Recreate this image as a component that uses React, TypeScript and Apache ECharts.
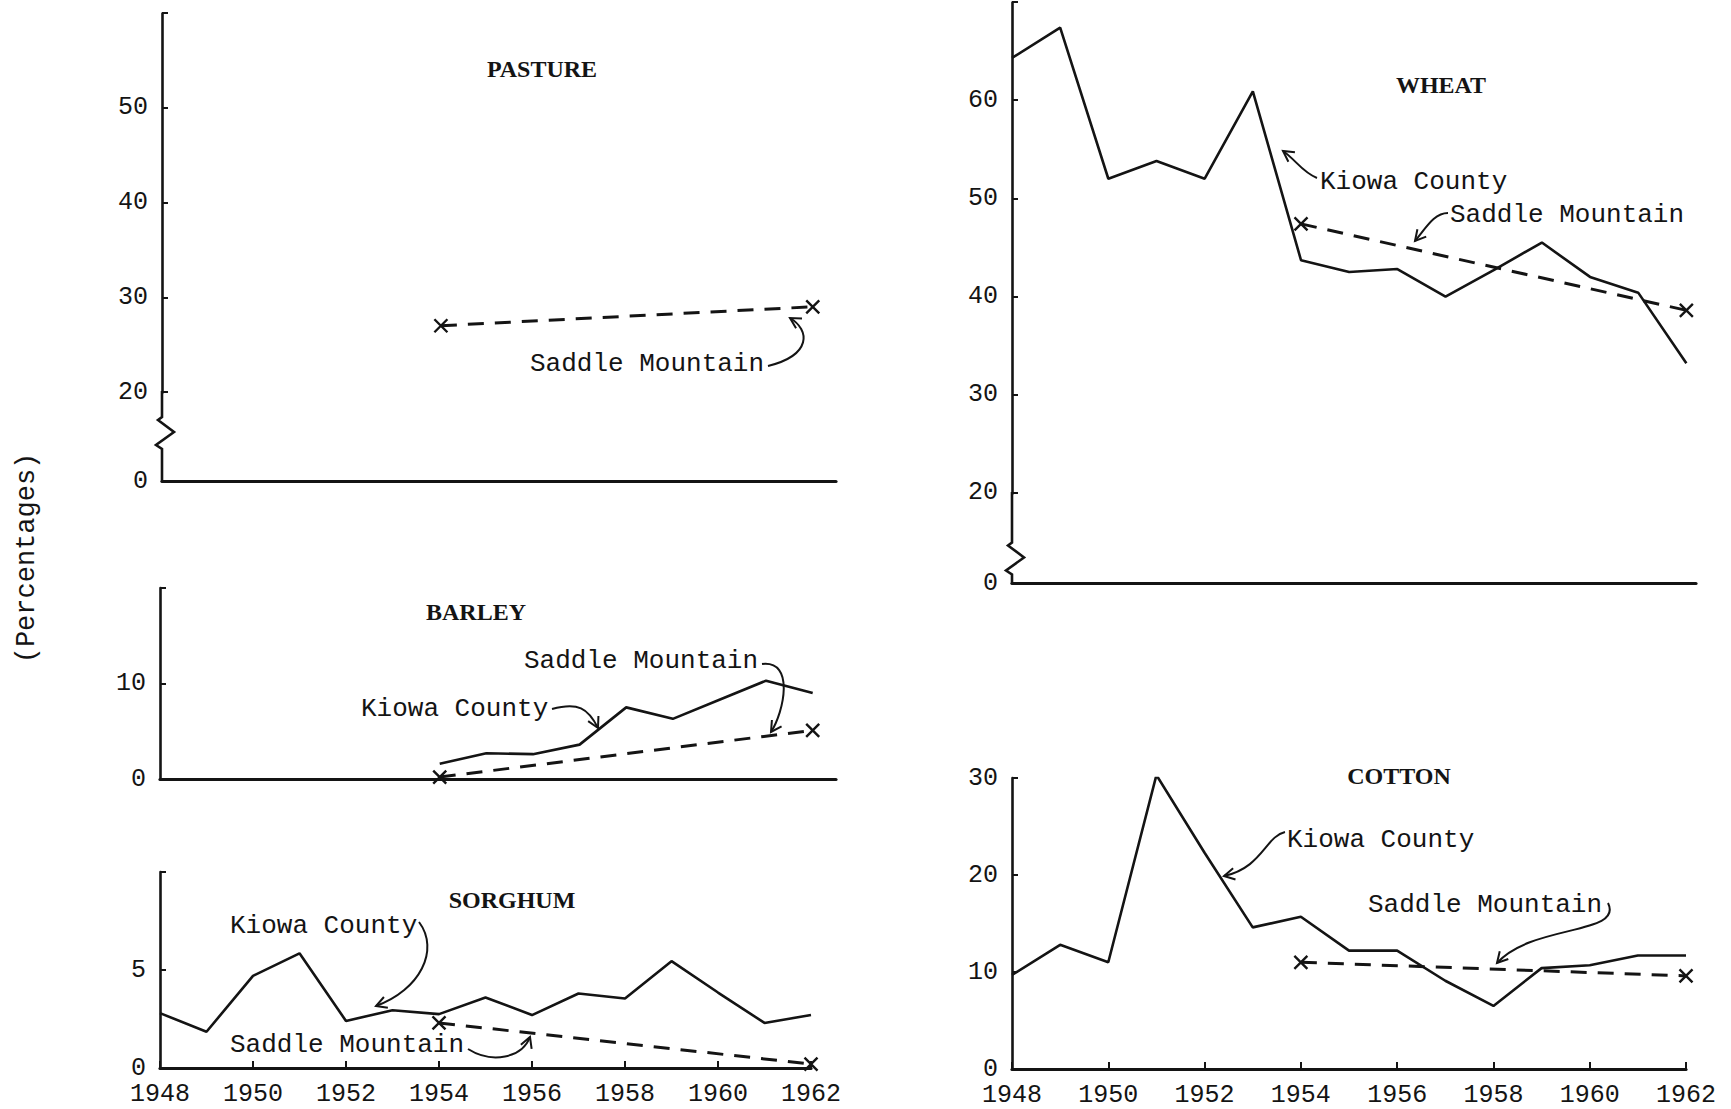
import React, { useEffect, useRef } from 'react';
import * as echarts from 'echarts';

// ---------- data ----------
const years = [1948, 1949, 1950, 1951, 1952, 1953, 1954, 1955, 1956, 1957, 1958, 1959, 1960, 1961, 1962];
const saddleYears = [1954, 1962];

const pastureSaddle = [27.0, 29.0];

const barleyYears = [1954, 1955, 1956, 1957, 1958, 1959, 1960, 1961, 1962];
const barleyKiowa = [1.6, 2.7, 2.6, 3.6, 7.5, 6.3, 8.3, 10.3, 9.0];
const barleySaddle = [0.2, 5.1];

const sorghumKiowa = [2.8, 1.85, 4.7, 5.85, 2.4, 2.95, 2.75, 3.6, 2.7, 3.8, 3.55, 5.45, 3.85, 2.3, 2.7];
const sorghumSaddle = [2.3, 0.2];

const wheatKiowa = [64.3, 67.4, 52.0, 53.8, 52.0, 60.9, 43.7, 42.5, 42.8, 40.0, 42.7, 45.5, 42.0, 40.4, 33.2];
const wheatSaddle = [47.4, 38.6];

const cottonKiowa = [9.7, 12.8, 11.0, 30.3, 22.3, 14.6, 15.7, 12.2, 12.2, 9.1, 6.5, 10.4, 10.7, 11.7, 11.7];
const cottonSaddle = [11.0, 9.6];

const pastureTicks = [0, 20, 30, 40, 50];
const barleyTicks = [0, 10];
const sorghumTicks = [0, 5];
const wheatTicks = [0, 20, 30, 40, 50, 60];
const cottonTicks = [0, 10, 20, 30];

// ---------- styling ----------
const INK = '#141414';
const MONO = '"Liberation Mono", "DejaVu Sans Mono", monospace';
const SERIF = '"Liberation Serif", "DejaVu Serif", serif';

const pairs = (xs: number[], ys: number[]) => xs.map((x, i) => [x, ys[i]]);

const kiowaSeries = (idx: number, data: number[][]) => ({
  type: 'line',
  xAxisIndex: idx,
  yAxisIndex: idx,
  data,
  showSymbol: false,
  symbol: 'none',
  lineStyle: { color: INK, width: 2.6 },
  z: 3,
});

const saddleSeries = (idx: number, data: number[][]) => ({
  type: 'line',
  xAxisIndex: idx,
  yAxisIndex: idx,
  data,
  symbol: 'path://M0 0L10 10M10 0L0 10',
  symbolSize: 13,
  showSymbol: true,
  itemStyle: { color: INK, borderColor: INK, borderWidth: 2.4 },
  lineStyle: { color: INK, width: 3, type: [16, 11] },
  z: 4,
});

const xAxisDef = (idx: number, max: number, labels: boolean) => ({
  type: 'value',
  gridIndex: idx,
  min: 1948,
  max,
  interval: 2,
  axisLine: { show: true, onZero: false, lineStyle: { color: INK, width: 3.2 } },
  axisTick: { show: labels, inside: true, length: 7, lineStyle: { color: INK, width: 2 } },
  axisLabel: {
    show: labels,
    color: INK,
    fontFamily: MONO,
    fontSize: 25,
    margin: 14,
    formatter: (v: number) => String(v),
  },
  splitLine: { show: false },
});

const yAxisDef = (idx: number, max: number, interval: number, shown: number[], brk: any) => {
  const ax: any = {
    type: 'value',
    gridIndex: idx,
    min: 0,
    max,
    interval,
    axisLine: { show: true, lineStyle: { color: INK, width: 2.6 } },
    axisTick: { show: true, inside: true, length: 6, lineStyle: { color: INK, width: 2 } },
    axisLabel: {
      color: INK,
      fontFamily: MONO,
      fontSize: 25,
      margin: 14,
      formatter: (v: number) => (shown.indexOf(Math.round(v * 1000) / 1000) >= 0 ? String(Math.round(v)) : ''),
    },
    splitLine: { show: false },
  };
  if (brk) {
    ax.breaks = [brk];
    ax.breakArea = {
      show: true,
      itemStyle: { color: 'rgba(0,0,0,0)', borderColor: 'rgba(0,0,0,0)', borderWidth: 0 },
      zigzagAmplitude: 0,
    };
  }
  return ax;
};

const text = (t: string, x: number, y: number, opts: any = {}) => ({
  type: 'text',
  x,
  y,
  rotation: opts.rotation || 0,
  style: {
    text: t,
    fill: INK,
    font: opts.font || `26px ${MONO}`,
    textAlign: opts.align || 'left',
    textVerticalAlign: 'middle',
  },
  z: 10,
});

const arrow = (p: number[][]) => {
  const [s, c1, c2, e] = p;
  const ang = Math.atan2(e[1] - c2[1], e[0] - c2[0]);
  const L = 12;
  const sp = 0.5;
  const a1 = [e[0] - L * Math.cos(ang - sp), e[1] - L * Math.sin(ang - sp)];
  const a2 = [e[0] - L * Math.cos(ang + sp), e[1] - L * Math.sin(ang + sp)];
  return [
    {
      type: 'bezierCurve',
      shape: { x1: s[0], y1: s[1], cpx1: c1[0], cpy1: c1[1], cpx2: c2[0], cpy2: c2[1], x2: e[0], y2: e[1] },
      style: { stroke: INK, lineWidth: 2, fill: null },
      z: 10,
    },
    {
      type: 'polyline',
      shape: { points: [a1, e, a2] },
      style: { stroke: INK, lineWidth: 2, fill: null },
      z: 10,
    },
  ];
};

// zig-zag joining the axis line across the break, between values 0 and 20
const zigzag = (chart: any, gridIndex: number, frac: number) => {
  const top = chart.convertToPixel({ gridIndex }, [1948, 20]);
  const bot = chart.convertToPixel({ gridIndex }, [1948, 0]);
  const x = top[0];
  const y20 = top[1];
  const y0 = bot[1];
  const ya = y20 + (y0 - y20) * frac;
  return {
    type: 'polyline',
    shape: {
      points: [
        [x, y20 - 1],
        [x, ya],
        [x - 4, ya + 3],
        [x + 12, ya + 15],
        [x - 6, ya + 28],
        [x, ya + 32],
        [x, y0 + 1],
      ],
    },
    style: { stroke: INK, lineWidth: 2.6, fill: null },
    z: 5,
  };
};

export default function App() {
  const ref = useRef<HTMLDivElement>(null);

  useEffect(() => {
    document.body.style.margin = '0';
    const chart = echarts.init(ref.current!, undefined, { renderer: 'svg' });

    const grids = [
      { left: 162, top: 13, width: 674, height: 468 }, // pasture
      { left: 160, top: 588, width: 676, height: 191 }, // barley
      { left: 160, top: 872, width: 651, height: 196 }, // sorghum
      { left: 1012, top: 2, width: 684, height: 581 }, // wheat
      { left: 1012, top: 778, width: 674, height: 291 }, // cotton
    ];

    const titleFont = `bold 24px ${SERIF}`;

    const option: any = {
      animation: false,
      backgroundColor: '#ffffff',
      grid: grids.map((g) => ({ ...g, containLabel: false })),
      xAxis: [
        xAxisDef(0, 1962.5, false),
        xAxisDef(1, 1962.5, false),
        xAxisDef(2, 1962, true),
        xAxisDef(3, 1962.2, false),
        xAxisDef(4, 1962, true),
      ],
      yAxis: [
        yAxisDef(0, 60, 10, pastureTicks, { start: 0, end: 20, gap: '19%' }),
        yAxisDef(1, 20, 10, barleyTicks, null),
        yAxisDef(2, 10, 5, sorghumTicks, null),
        yAxisDef(3, 70, 10, wheatTicks, { start: 0, end: 20, gap: '15.5%' }),
        yAxisDef(4, 30, 10, cottonTicks, null),
      ],
      series: [
        saddleSeries(0, pairs(saddleYears, pastureSaddle)),
        kiowaSeries(1, pairs(barleyYears, barleyKiowa)),
        saddleSeries(1, pairs(saddleYears, barleySaddle)),
        kiowaSeries(2, pairs(years, sorghumKiowa)),
        saddleSeries(2, pairs(saddleYears, sorghumSaddle)),
        kiowaSeries(3, pairs(years, wheatKiowa)),
        saddleSeries(3, pairs(saddleYears, wheatSaddle)),
        kiowaSeries(4, pairs(years, cottonKiowa)),
        saddleSeries(4, pairs(saddleYears, cottonSaddle)),
      ],
      graphic: [
        text('PASTURE', 542, 69, { font: titleFont, align: 'center' }),
        text('BARLEY', 476, 612, { font: titleFont, align: 'center' }),
        text('SORGHUM', 512, 900, { font: titleFont, align: 'center' }),
        text('WHEAT', 1441, 85, { font: titleFont, align: 'center' }),
        text('COTTON', 1399, 776, { font: titleFont, align: 'center' }),
        text('(Percentages)', 27, 558, { rotation: Math.PI / 2, align: 'center', font: `27px ${MONO}` }),

        text('Saddle Mountain', 530, 364),
        ...arrow([[768, 366], [812, 355], [810, 330], [790, 318]]),

        text('Kiowa County', 1320, 182),
        ...arrow([[1317, 178], [1302, 172], [1296, 160], [1283, 151]]),
        text('Saddle Mountain', 1450, 215),
        ...arrow([[1448, 213], [1434, 213], [1426, 228], [1415, 241]]),

        text('Saddle Mountain', 524, 661),
        ...arrow([[762, 664], [795, 660], [784, 712], [771, 732]]),
        text('Kiowa County', 361, 709),
        ...arrow([[552, 709], [578, 702], [588, 708], [598, 728]]),

        text('Kiowa County', 230, 926),
        ...arrow([[419, 922], [440, 950], [420, 990], [376, 1006]]),
        text('Saddle Mountain', 230, 1045),
        ...arrow([[468, 1049], [492, 1064], [522, 1058], [530, 1037]]),

        text('Kiowa County', 1287, 840),
        ...arrow([[1285, 832], [1266, 836], [1262, 868], [1224, 876]]),
        text('Saddle Mountain', 1368, 905),
        ...arrow([[1608, 903], [1624, 935], [1532, 924], [1497, 963]]),
      ],
    };

    chart.setOption(option);
    try {
      option.graphic.push(zigzag(chart, 0, 0.28));
      option.graphic.push(zigzag(chart, 3, 0.55));
      chart.setOption(option, true);
    } catch (e) {
      // keep the chart without the zig-zags
    }
    return () => chart.dispose();
  }, []);

  return <div ref={ref} style={{ width: 1731, height: 1109 }} />;
}
